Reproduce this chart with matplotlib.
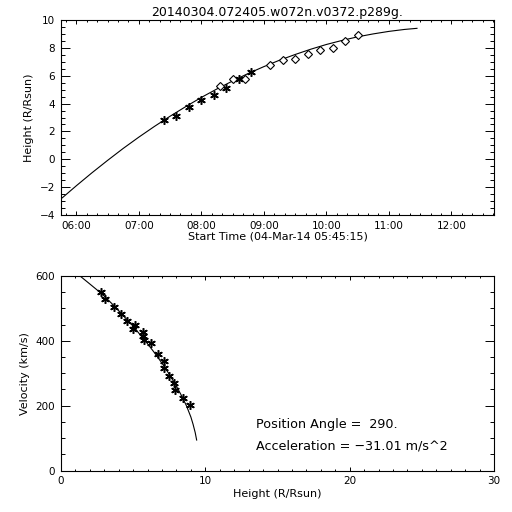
import numpy as np
import pandas as pd
import matplotlib
matplotlib.use("Agg")
import matplotlib.pyplot as plt
import matplotlib.dates as mdates
from matplotlib.ticker import MultipleLocator

day = "2014-03-04 "
title = "20140304.072405.w072n.v0372.p289g."

# C2 points (asterisks)
c2_times = ["07:24:05", "07:36:05", "07:48:05", "08:00:05", "08:12:05", "08:24:05", "08:36:05", "08:48:05"]
c2_height = [2.81, 3.12, 3.76, 4.24, 4.64, 5.09, 5.78, 6.24]

# C3 points (diamonds)
c3_times = ["08:18:05", "08:30:05", "08:42:05", "09:06:05", "09:18:05", "09:30:05",
            "09:42:05", "09:54:05", "10:06:05", "10:18:05", "10:30:05"]
c3_height = [5.24, 5.76, 5.76, 6.79, 7.14, 7.21, 7.59, 7.86, 8.02, 8.50, 8.93]

# fitted height-time curve
fit_times = ["05:46:36", "06:00:00", "06:15:00", "06:30:00", "06:45:00", "07:00:00",
             "07:15:00", "07:30:00", "07:45:00", "08:00:00", "08:15:00", "08:30:00",
             "08:45:00", "09:00:00", "09:15:00", "09:30:00", "09:45:00", "10:00:00",
             "10:15:00", "10:30:00", "10:45:00", "11:00:00", "11:15:00", "11:27:00"]
fit_height = [-2.76, -1.90, -0.97, -0.08, 0.78, 1.59, 2.36, 3.09, 3.78, 4.44, 5.05, 5.62,
              6.16, 6.65, 7.11, 7.52, 7.90, 8.24, 8.53, 8.79, 9.00, 9.18, 9.32, 9.40]

# velocity vs height
vel_h = [2.75, 3.02, 3.67, 4.18, 4.55, 4.97, 5.13, 5.68, 5.70, 5.75, 6.21, 6.72,
         7.14, 7.16, 7.51, 7.83, 7.92, 8.45, 8.96]
vel_v = [552, 529, 504, 483, 461, 437, 448, 426, 416, 403, 394, 359,
         338, 315, 293, 270, 247, 225, 202]

vfit_h = [1.32, 1.9, 2.5, 3.0, 3.5, 4.0, 4.5, 5.0, 5.5, 6.0, 6.5, 7.0, 7.5, 8.0,
          8.4, 8.7, 9.0, 9.15, 9.3, 9.4]
vfit_v = [600, 579, 557, 538, 516, 493, 469, 445, 418, 391, 362, 331, 297, 260,
          227, 199, 165, 143, 117, 94]

pa_text = "Position Angle =  290."
acc_text = "Acceleration = \u221231.01 m/s^2"


def to_dt(ts):
    return pd.to_datetime([day + t for t in ts], format="%Y-%m-%d %H:%M:%S")


plt.rcParams["font.family"] = "DejaVu Sans"
fig = plt.figure(figsize=(5.12, 5.12), dpi=100)

ast = (6, 2, 0)
lw = 0.8


def idl_ticks(ax, xmaj, ymaj):
    ax.tick_params(which="both", direction="in", top=True, right=True,
                   labelsize=7.5, width=0.7, pad=4)
    ax.tick_params(axis="x", which="major", length=xmaj)
    ax.tick_params(axis="x", which="minor", length=xmaj / 2)
    ax.tick_params(axis="y", which="major", length=ymaj)
    ax.tick_params(axis="y", which="minor", length=ymaj / 2)
    for s in ax.spines.values():
        s.set_linewidth(0.8)


# top panel
ax1 = fig.add_axes([0.119, 0.580, 0.846, 0.381])
ax1.plot(to_dt(fit_times), fit_height, color="black", lw=lw)
ax1.plot(to_dt(c2_times), c2_height, ls="none", marker=ast, ms=6.2, mew=1.1, color="black")
ax1.plot(to_dt(c3_times), c3_height, ls="none", marker="D", ms=4.3, mew=0.8,
         mfc="white", mec="black")
ax1.set_xlim(pd.Timestamp(day + "05:45:15"), pd.Timestamp(day + "12:41:00"))
ax1.set_ylim(-4, 10)
ax1.xaxis.set_major_locator(mdates.HourLocator())
ax1.xaxis.set_minor_locator(mdates.MinuteLocator(byminute=range(0, 60, 10)))
ax1.xaxis.set_major_formatter(mdates.DateFormatter("%H:%M"))
ax1.yaxis.set_major_locator(MultipleLocator(2))
ax1.yaxis.set_minor_locator(MultipleLocator(0.5))
idl_ticks(ax1, 3.0, 6.2)
ax1.set_xlabel("Start Time (04-Mar-14 05:45:15)", fontsize=8, labelpad=1)
ax1.set_ylabel("Height (R/Rsun)", fontsize=8, labelpad=4)
ax1.set_title(title, fontsize=9, pad=3)

# bottom panel
ax2 = fig.add_axes([0.119, 0.081, 0.846, 0.380])
ax2.plot(vfit_h, vfit_v, color="black", lw=lw)
ax2.plot(vel_h, vel_v, ls="none", marker=ast, ms=6.2, mew=1.1, color="black")
ax2.set_xlim(0, 30)
ax2.set_ylim(0, 600)
ax2.xaxis.set_major_locator(MultipleLocator(10))
ax2.xaxis.set_minor_locator(MultipleLocator(1))
ax2.yaxis.set_major_locator(MultipleLocator(200))
ax2.yaxis.set_minor_locator(MultipleLocator(50))
idl_ticks(ax2, 3.0, 6.2)
ax2.set_xlabel("Height (R/Rsun)", fontsize=8, labelpad=2)
ax2.set_ylabel("Velocity (km/s)", fontsize=8, labelpad=4)
ax2.text(0.45, 0.235, pa_text, transform=ax2.transAxes, fontsize=9.2, va="center")
ax2.text(0.45, 0.127, acc_text, transform=ax2.transAxes, fontsize=9.2, va="center")

fig.savefig("out.png", dpi=100)
